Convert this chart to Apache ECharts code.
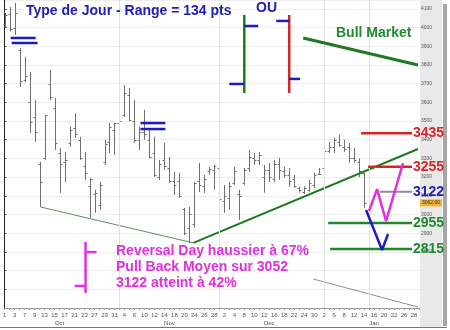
<!DOCTYPE html>
<html><head><meta charset="utf-8">
<script src="https://cdn.jsdelivr.net/npm/echarts@6/dist/echarts.min.js"></script>
<style>html,body{margin:0;padding:0;background:#fff}#c{width:450px;height:330px}</style>
</head><body><div id="c"></div>
<script>
// trading days (day of month), Oct 2008 -> Jan 2009
const days = [1,2,3,6,7,8,9,10,13,14,15,16,17,20,21,22,23,24,27,28,29,30,31,
  3,4,5,6,7,10,11,12,13,14,17,18,19,20,21,24,25,26,27,28,
  1,2,3,4,5,8,9,10,11,12,15,16,17,18,19,22,23,24,29,30,31,
  2,5,6,7,8,9,12,13,14,15,16,19,20,21,22,23,26,27,28,29];
const monthNames = ['Oct','Nov','Dec','Jan'];
const opens  = [4020,4070,3995,3880,3720,3600,3520,3270,3300,3700,3570,3330,3280,3380,3460,3400,3260,3150,3110,3050,3280,3390,3450,
  3490,3530,3640,3500,3400,3440,3400,3330,3200,3290,3250,3180,3180,3030,2930,2950,3180,3150,3230,3240,
  3250,3070,3090,3170,3110,3170,3250,3300,3290,3200,3240,3190,3270,3230,3210,3190,3140,3120,3130,3160,3215,
  3250,3340,3360,3390,3360,3360,3300,3280,3220];
const highs  = [4078,4110,4132,3891,3843,3763,3613,3281,3533,3773,3624,3356,3335,3470,3543,3415,3335,3196,3132,3175,3399,3490,3490,
  3533,3693,3677,3613,3470,3560,3450,3415,3292,3383,3308,3228,3223,3035,3041,3174,3276,3212,3255,3265,
  3265,3158,3174,3255,3132,3249,3345,3329,3335,3265,3276,3292,3303,3255,3249,3212,3148,3150,3185,3223,3249,
  3345,3388,3410,3426,3399,3383,3356,3300,3223];
const lows   = [4003,3977,3960,3682,3709,3436,3388,3041,3292,3613,3345,3116,3174,3362,3410,3292,3185,2982,3009,3025,3265,3329,3319,
  3463,3522,3500,3383,3345,3400,3300,3201,3185,3239,3169,3105,3089,2890,2848,2930,3121,3116,3212,3132,
  3078,3009,3025,3158,2971,3158,3228,3265,3265,3116,3174,3174,3185,3196,3148,3142,3116,3110,3121,3142,3212,
  3249,3329,3329,3362,3335,3276,3276,3200,3035];
const closes = [4065,3990,4080,3712,3742,3496,3443,3176,3531,3628,3381,3269,3290,3452,3433,3300,3220,3190,3114,3160,3376,3470,3487,
  3500,3650,3507,3400,3440,3430,3310,3210,3270,3262,3180,3160,3100,2900,3000,3170,3160,3190,3245,3262,
  3081,3100,3150,3230,3100,3240,3310,3290,3320,3240,3200,3270,3240,3210,3180,3150,3130,3140,3170,3210,3218,
  3340,3360,3396,3370,3350,3300,3290,3230,3062];
const lastPrice = 3062;
// price levels (annotations)
const levels = [3435, 3255, 3122, 2955, 2815];
const levelStart = [71.4, 72.8, 75.2, 64.8, 65.2];
const levelEnd = 81.6;
const levelLineColors = ['#d42626','#d42626','#8a8aa6','#1f8a2a','#1f8a2a'];
const levelTextColors = ['#d42626','#d42626','#2222b0','#1f8a2a','#1f8a2a'];
// trend lines & sketches in (index, price)
const bullLine = [[59.8,3944],[82.8,3799]];
const supportLine = [[7.2,3040],[37.8,2848]];
const trendLine = [[37.8,2848],[82.8,3350]];
const lowerLine = [[61.8,2655],[82.8,2505]];
const rangeBars1 = [[[1.2,3944],[6.2,3944]],[[1.4,3917],[6.6,3917]]];
const rangeBars2 = [[[27.2,3489],[32.2,3489]],[[27.2,3457],[32.2,3457]]];
const magentaPath = [[73,3019],[74.6,3136],[76.4,2965],[79.8,3275]];
const bluePath = [[72.4,3024],[75.6,2810],[76.8,2896]];
const greenSym = {bar:[[48,4067],[48,3650]], open:[[45,3698],[48,3698]], close:[[48,4008],[50.8,4008]]};
const redSym = {bar:[[57,4067],[57,3650]], open:[[54.4,4035],[57,4035]], close:[[57,3725],[59.2,3725]]};
const magSym = {bar:[[16.2,2853],[16.2,2580]], open:[[14,2618],[16.2,2618]], close:[[16.2,2799],[18.4,2799]]};

const FONT = "'Liberation Sans', Arial, sans-serif";
const ohlc = opens.map((o,i)=>[i,o,highs[i],lows[i],closes[i]]);

// month label index = middle trading day of each month
const monthMid = {};
(function(){
  let start = 0, m = 0;
  for (let i = 1; i <= days.length; i++) {
    if (i === days.length || days[i] < days[i-1]) {
      monthMid[Math.round((start + i - 1)/2)] = monthNames[m];
      m++; start = i;
    }
  }
})();
const vLines = [];
for (let i = 1; i < days.length; i++) if (days[i] < days[i-1]) vLines.push(i);
vLines.push(ohlc.length); // current session marker

function seg(points, color, width, z) {
  return {type:'line', data:points, symbol:'none', silent:true, animation:false, z:z||5,
    lineStyle:{color:color, width:width}, clip:false};
}
const series = [];
series.push({
  type:'custom', data:ohlc, z:3, animation:false, silent:true,
  renderItem:function(params, api){
    const i = api.value(0);
    const o = api.coord([i, api.value(1)]);
    const h = api.coord([i, api.value(2)]);
    const l = api.coord([i, api.value(3)]);
    const c = api.coord([i, api.value(4)]);
    const x = Math.round(h[0]) + 0.5;
    const st = {stroke:'#707070', lineWidth:1};
    return {type:'group', children:[
      {type:'line', shape:{x1:x,y1:h[1],x2:x,y2:l[1]}, style:st},
      {type:'line', shape:{x1:x-2,y1:Math.round(o[1])+0.5,x2:x,y2:Math.round(o[1])+0.5}, style:st},
      {type:'line', shape:{x1:x,y1:Math.round(c[1])+0.5,x2:x+2,y2:Math.round(c[1])+0.5}, style:st}
    ]};
  }
});
// last price tag on the axis
series.push({type:'line', symbol:'none', silent:true, animation:false, z:9, clip:false,
  data:[[0,lastPrice],[days.length-1,lastPrice]], lineStyle:{opacity:0, width:0},
  endLabel:{show:true, distance:1, formatter:lastPrice.toFixed(2), fontSize:5, color:'#333',
    backgroundColor:'#f0b030', padding:[1,2], fontFamily:FONT}});
// vertical separators
series.push({type:'line', data:[], markLine:{silent:true, symbol:'none', animation:false,
  lineStyle:{color:'#e2e2e2', width:1, type:'solid'}, label:{show:false},
  data: vLines.map(i=>({xAxis:i}))}});

series.push(seg(supportLine, '#5e8f5e', 1, 4));
series.push(seg(trendLine, '#1f7a1f', 2, 4));
series.push(seg(lowerLine, '#7f9a7f', 1, 4));
series.push(seg(bullLine, '#1f7a1f', 3, 6));
rangeBars1.concat(rangeBars2).forEach(p=>series.push(seg(p, '#1c1cc0', 2.5, 6)));
series.push(seg(greenSym.bar, '#1f7a1f', 2.5, 6));
series.push(seg(greenSym.open, '#1c1cc0', 2.5, 6));
series.push(seg(greenSym.close, '#1c1cc0', 2.5, 6));
series.push(seg(redSym.bar, '#d42626', 2.5, 6));
series.push(seg(redSym.open, '#1c1cc0', 2.5, 6));
series.push(seg(redSym.close, '#1c1cc0', 2.5, 6));
series.push(seg(magSym.bar, '#e030e0', 2.5, 6));
series.push(seg(magSym.open, '#e030e0', 2.5, 6));
series.push(seg(magSym.close, '#e030e0', 2.5, 6));
levels.forEach((v,k)=>{
  series.push({type:'line', symbol:'none', silent:true, animation:false, z:7, clip:false,
    lineStyle:{color:levelLineColors[k], width:k===2?2:2.5},
    data:[[levelStart[k], v], [levelEnd, v]],
    endLabel:{show:true, distance:1, formatter:String(v), color:levelTextColors[k],
      fontSize:14, fontWeight:'bold', fontFamily:FONT}});
});
series.push(seg(magentaPath, '#e030e0', 2.5, 8));
series.push(seg(bluePath, '#1c1cc0', 2.5, 8));

const option = {
  backgroundColor:'#ffffff',
  animation:false,
  grid:{left:4, right:31, top:0, bottom:22},
  xAxis:[{
    type:'value', min:0, max:days.length-1, interval:1,
    axisLine:{show:true, lineStyle:{color:'#999'}},
    axisTick:{show:true, length:2, lineStyle:{color:'#999'}},
    splitLine:{show:false},
    axisLabel:{fontSize:6, color:'#555', margin:3, lineHeight:8, fontFamily:FONT,
      showMinLabel:true, showMaxLabel:true,
      formatter:function(v){
        const d = (v % 2 === 0) ? String(days[v]) : '';
        return monthMid[v] ? d + '\n' + monthMid[v] : d;
      }}
  }],
  yAxis:[{
    type:'value', position:'right', min:2500, max:4147, interval:100,
    axisLine:{show:true, lineStyle:{color:'#222', width:1}},
    axisTick:{show:true, length:2, lineStyle:{color:'#555'}},
    splitLine:{show:true, lineStyle:{color:'#eeeeee'}},
    axisLabel:{fontSize:5, color:'#555', margin:2, showMaxLabel:false, showMinLabel:false, fontFamily:FONT,
      formatter:function(v){ return v < 2800 ? '' : String(v); }}
  }],
  graphic:[
    {type:'rect', shape:{x:420, y:0, width:22, height:327}, style:{fill:'#e9e9e9'}, z:-10, silent:true},
    {type:'rect', shape:{x:443, y:4, width:4, height:322}, style:{fill:'#a6a6a6'}, z:-10, silent:true},
    {type:'line', shape:{x1:0, y1:327.5, x2:447, y2:327.5}, style:{stroke:'#777', lineWidth:1}, z:-10, silent:true},
    {type:'text', left:26, top:4, z:100, style:{text:'Type de Jour - Range = 134 pts', fill:'#2020b4', font:"bold 14px "+FONT}},
    {type:'text', left:256, top:1, z:100, style:{text:'OU', fill:'#2020b4', font:"bold 14px "+FONT}},
    {type:'text', left:336, top:26, z:100, style:{text:'Bull Market', fill:'#228a30', font:"bold 14px "+FONT}},
    {type:'text', left:116, top:244, z:100, style:{text:'Reversal Day haussier à 67%', fill:'#e030e0', font:"bold 14px "+FONT}},
    {type:'text', left:116, top:260, z:100, style:{text:'Pull Back Moyen sur 3052', fill:'#e030e0', font:"bold 14px "+FONT}},
    {type:'text', left:116, top:276, z:100, style:{text:'3122 atteint à 42%', fill:'#e030e0', font:"bold 14px "+FONT}}
  ],
  series:series
};
const chart = echarts.init(document.getElementById('c'));
chart.setOption(option);
</script></body></html>
